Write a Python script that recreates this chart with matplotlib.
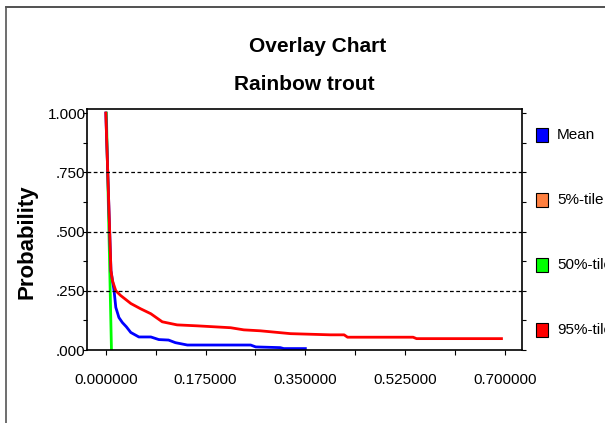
import matplotlib
matplotlib.use("Agg")
import matplotlib.pyplot as plt
from matplotlib.lines import Line2D
from matplotlib.patches import Rectangle
from matplotlib.ticker import FixedLocator, FuncFormatter

plt.rcParams['font.family'] = ['Liberation Sans', 'DejaVu Sans']

# reverse cumulative curves
mean_x = [0.0, 0.009, 0.0145, 0.0175, 0.023, 0.029, 0.036, 0.0438, 0.058, 0.079, 0.093,
          0.110, 0.122, 0.143, 0.254, 0.263, 0.306, 0.312, 0.350]
mean_y = [1.0, 0.335, 0.25, 0.18, 0.137, 0.116, 0.098, 0.074, 0.055, 0.055, 0.044,
          0.042, 0.031, 0.021, 0.021, 0.013, 0.010, 0.006, 0.006]

p50_x = [0.001, 0.0099]
p50_y = [1.0, 0.0]

p95_x = [0.0, 0.009, 0.0117, 0.0175, 0.026, 0.044, 0.061, 0.079, 0.099, 0.125, 0.160,
         0.219, 0.242, 0.271, 0.324, 0.394, 0.418, 0.424, 0.539, 0.545, 0.694]
p95_y = [1.0, 0.335, 0.292, 0.25, 0.23, 0.196, 0.174, 0.153, 0.119, 0.106, 0.102,
         0.094, 0.085, 0.081, 0.069, 0.064, 0.064, 0.054, 0.054, 0.048, 0.048]

legend_names = ['Mean', '5%-tile', '50%-tile', '95%-tile']
legend_colors = ['#0000FF', '#FF8040', '#00FF00', '#FF0000']

x_ticks = [0.0, 0.0875, 0.175, 0.2625, 0.35, 0.4375, 0.525, 0.6125, 0.70]
y_ticks = [0.0, 0.125, 0.25, 0.375, 0.5, 0.625, 0.75, 0.875, 1.0]

fig = plt.figure(figsize=(6.05, 4.23), dpi=100)
ax = fig.add_axes([87 / 605, 1 - 350 / 423, (522 - 87) / 605, (350 - 109.5) / 423])

ax.plot(p50_x, p50_y, color='#00FF00', lw=2)
ax.plot(mean_x, mean_y, color='#0000FF', lw=2)
ax.plot(p95_x, p95_y, color='#FF0000', lw=2)

ax.set_xlim(-0.033, 0.730)
ax.set_ylim(0, 1.015)

for v in [0.25, 0.5, 0.75]:
    ax.axhline(v, color='black', lw=0.9, ls=(0, (3, 2)))

ax.xaxis.set_major_locator(FixedLocator(x_ticks))
ax.xaxis.set_major_formatter(FuncFormatter(
    lambda v, p: '%.6f' % v if p % 2 == 0 else ''))
ax.yaxis.set_major_locator(FixedLocator(y_ticks))
ax.yaxis.set_major_formatter(FuncFormatter(
    lambda v, p: ('%.3f' % v if v >= 1 else ('%.3f' % v)[1:]) if p % 2 == 0 else ''))

ax.tick_params(axis='x', direction='out', length=3.5, width=0.8, pad=13, labelsize=11)
ax.tick_params(axis='y', direction='out', length=3, width=0.8, pad=-2,
               labelsize=11, right=True)
for s in ax.spines.values():
    s.set_linewidth(1.2)

fig.text(27 / 605, 1 - 242 / 423, 'Probability', fontsize=16, fontweight='bold',
         rotation=90, ha='center', va='center')

fig.text(318 / 605, 1 - 46 / 423, 'Overlay Chart', fontsize=15, fontweight='bold',
         ha='center', va='center')
fig.text(304 / 605, 1 - 85 / 423, 'Rainbow trout', fontsize=15, fontweight='bold',
         ha='center', va='center')

# legend on the right, cut off by the figure edge as in the original
for i, (name, col) in enumerate(zip(legend_names, legend_colors)):
    yc = 135 + i * 65
    fig.add_artist(Rectangle((536 / 605, 1 - (yc + 7) / 423), 12 / 605, 14 / 423,
                             transform=fig.transFigure, facecolor=col,
                             edgecolor='black', lw=0.8))
    fig.text(557 / 605, 1 - yc / 423, name, fontsize=11, ha='left', va='center')

# frame lines around the chart
fig.add_artist(Line2D([6 / 605, 1], [1 - 7 / 423, 1 - 7 / 423], color='#333333', lw=1.2))
fig.add_artist(Line2D([6 / 605, 6 / 605], [0, 1 - 7 / 423], color='#555555', lw=1.2))

fig.savefig('out.png', dpi=100)
